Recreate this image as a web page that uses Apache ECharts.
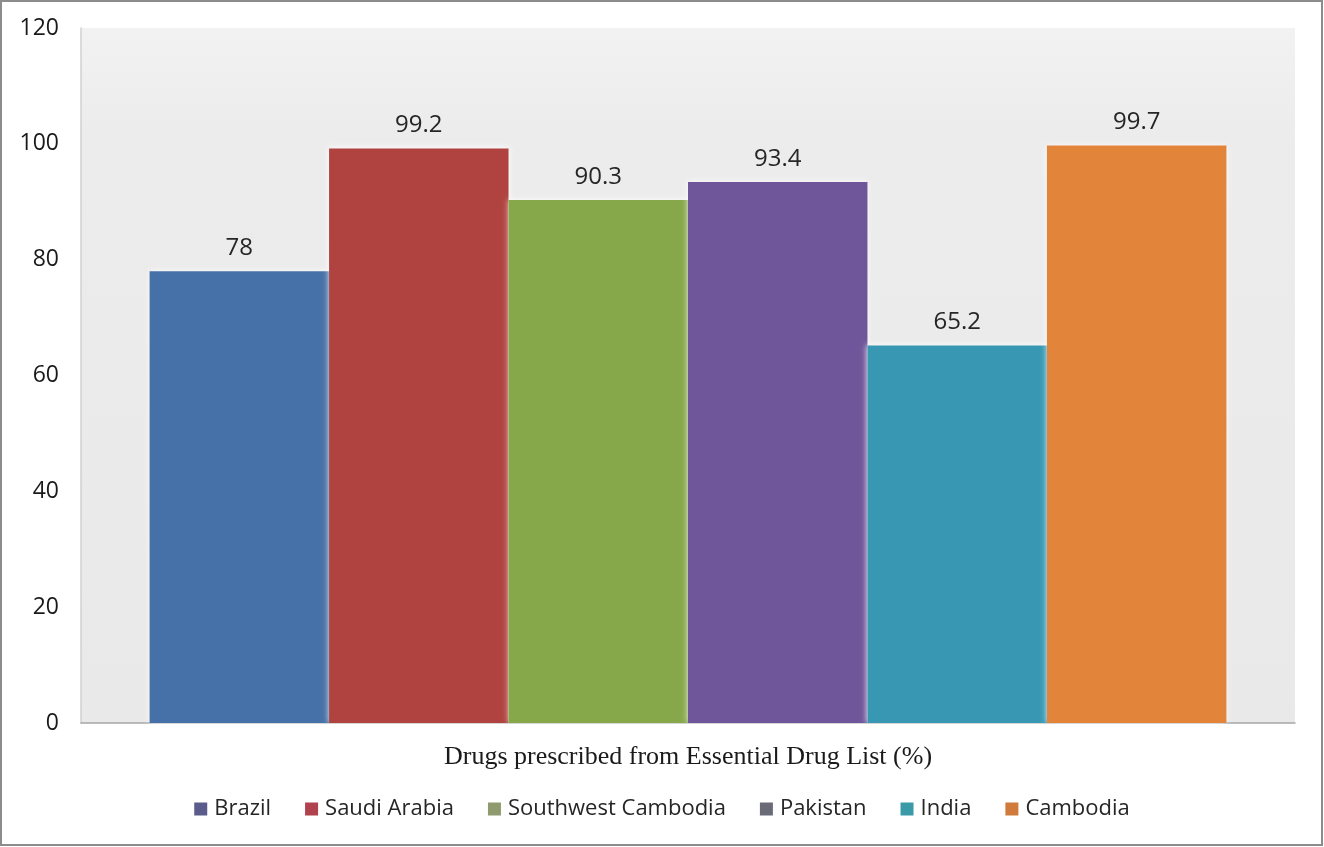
<!DOCTYPE html>
<html>
<head>
<meta charset="utf-8">
<script src="https://cdn.jsdelivr.net/npm/echarts@6/dist/echarts.min.js"></script>
<style>
  html, body { margin: 0; padding: 0; background: #ffffff; }
  #chart { width: 1324px; height: 847px; }
</style>
</head>
<body>
<div id="chart"></div>
<script>
// Share of drugs prescribed from the Essential Drug List, by study setting
const categories = ['Drugs prescribed from Essential Drug List (%)'];
const seriesNames = ['Brazil', 'Saudi Arabia', 'Southwest Cambodia', 'Pakistan', 'India', 'Cambodia'];
const seriesValues = [78, 99.2, 90.3, 93.4, 65.2, 99.7];
const seriesColors = ['#4671a8', '#b0433f', '#87a84a', '#6f559a', '#3898b4', '#e2843a'];
const legendIconColors = ['#5b5b8c', '#b0424e', '#8f9a6e', '#6b6b78', '#3a9aa8', '#d07a3c'];
const yTicks = [0, 20, 40, 60, 80, 100, 120];

const chart = echarts.init(document.getElementById('chart'), null, { renderer: 'canvas' });

const series = seriesNames.map((name, i) => ({
  name: name,
  type: 'bar',
  data: [seriesValues[i]],
  barGap: '0%',
  barCategoryGap: '11.3%',
  itemStyle: {
    color: seriesColors[i],
    shadowColor: 'rgba(255,255,255,0.9)',
    shadowBlur: 6
  },
  label: {
    show: true,
    position: 'top',
    distance: 11,
    color: '#262626',
    fontFamily: 'Open Sans',
    fontSize: 24,
    formatter: (p) => String(p.value)
  }
}));

chart.setOption({
  backgroundColor: '#ffffff',
  animation: false,
  graphic: [{
    type: 'rect',
    shape: { x: 1, y: 1, width: 1321, height: 844 },
    style: { fill: 'none', stroke: '#8c8c8c', lineWidth: 2 },
    silent: true,
    z: 100
  }],
  grid: {
    left: 81,
    right: 29,
    top: 28,
    bottom: 124,
    show: true,
    borderWidth: 0,
    backgroundColor: new echarts.graphic.LinearGradient(0, 0, 0, 1, [
      { offset: 0, color: '#f2f2f2' },
      { offset: 0.15, color: '#ececec' },
      { offset: 1, color: '#e9e9e9' }
    ])
  },
  legend: {
    bottom: 22,
    left: 'center',
    itemWidth: 13,
    itemHeight: 13,
    itemGap: 34,
    icon: 'rect',
    textStyle: { fontFamily: 'Open Sans', fontSize: 22, color: '#262626', padding: [0, 0, 0, 2] },
    data: seriesNames.map((n, i) => ({ name: n, itemStyle: { color: legendIconColors[i] } }))
  },
  xAxis: {
    type: 'category',
    data: categories,
    axisLine: { show: true, lineStyle: { color: '#a6a6a6', width: 1.5 } },
    axisTick: { show: false },
    axisLabel: {
      margin: 21,
      color: '#1a1a1a',
      fontFamily: 'Liberation Serif',
      fontSize: 26
    }
  },
  yAxis: {
    type: 'value',
    min: 0,
    max: 120,
    interval: 20,
    axisLine: { show: true, lineStyle: { color: '#d0d0d0', width: 1.5 } },
    axisTick: { show: false },
    splitLine: { show: false },
    axisLabel: {
      margin: 22,
      color: '#1a1a1a',
      fontFamily: 'Open Sans',
      fontSize: 23,
      formatter: (v) => yTicks.includes(v) ? String(v) : ''
    }
  },
  series: series
});
</script>
</body>
</html>
